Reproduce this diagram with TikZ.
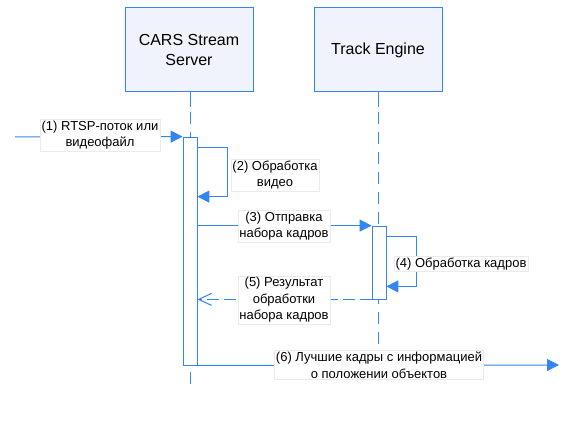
\documentclass[tikz,border=0pt]{standalone}
\usepackage{fontspec}
\setmainfont{Liberation Sans}
\usetikzlibrary{arrows.meta}
\definecolor{seqblue}{RGB}{51,133,240}
\definecolor{boxfill}{RGB}{240,243,252}
\begin{document}
\begin{tikzpicture}[x=1pt, y=1pt,
    actor/.style={draw=seqblue, fill=boxfill, line width=1pt, minimum width=128pt, minimum height=84pt, align=center, font=\fontsize{16}{20}\selectfont},
    activ/.style={draw=seqblue, fill=white, line width=0.8pt, minimum width=14pt, inner sep=0pt},
    lifeline/.style={seqblue, line width=1pt, dash pattern=on 12pt off 8pt},
    msg/.style={seqblue, line width=1pt, -{Triangle[length=12pt, width=12pt]}},
    reply/.style={seqblue, line width=1pt, dash pattern=on 12pt off 5pt, -{Straight Barb[length=13pt, width=12pt]}},
    lbl/.style={draw=black!8, fill=white, align=center, inner sep=1.5pt, font=\fontsize{13}{16.5}\selectfont}]
            \useasboundingbox (0,0) rectangle (576,-427);

            \node[actor] (cars) at (189,-50) {CARS Stream\\Server};
            \node[actor] (track) at (378,-50) {Track Engine};

            % lifelines
            \coordinate (carsEnd) at (190,-390);
            \coordinate (trackEnd) at (378,-376);
            \draw[seqblue, line width=1pt] (190,-92) -- (190,-107);
            \draw[seqblue, line width=1pt] (378,-92) -- (378,-107);
            \draw[lifeline] (190,-112) -- (carsEnd);
            \draw[lifeline] (378,-112) -- (trackEnd);

            \node[activ, minimum height=228pt] (bar1) at (190,-251) {};
            \node[activ, minimum height=73pt] (bar2) at (379,-262.5) {};

            % 1
            \coordinate (src) at (15,-137);
            \draw[msg] (src) -- (bar1.north west);

            % 2
            \draw[msg] ([yshift=-11pt]bar1.north east) -- ++(30,0) |- ([yshift=-60pt]bar1.north east);

            % 3
            \draw[msg] (bar1.east |- bar2.north) -- (bar2.north west);

            % 4
            \draw[msg] ([yshift=-11pt]bar2.north east) -- ++(30,0) |- ([yshift=13pt]bar2.south east);

            % 5
            \draw[reply] (bar2.south west) -- (bar1.east |- bar2.south);

            % 6
            \coordinate (out) at (559,-365);
            \draw[msg] (bar1.south east) -- (out);

            \node[lbl] (l1) at (100,-135) {(1) RTSP-поток или\\видеофайл};
            \node[lbl] (l2) at (275,-175) {(2) Обработка\\видео};
            \node[lbl] (l3) at (284,-226) {(3) Отправка\\набора кадров};
            \node[lbl] (l4) at (461,-264) {(4) Обработка кадров};
            \node[lbl] (l5) at (284,-300) {(5) Результат\\обработки\\набора кадров};
            \node[lbl] (l6) at (379,-365) {(6) Лучшие кадры с информацией\\о положении объектов};
        \end{tikzpicture}
\end{document}
